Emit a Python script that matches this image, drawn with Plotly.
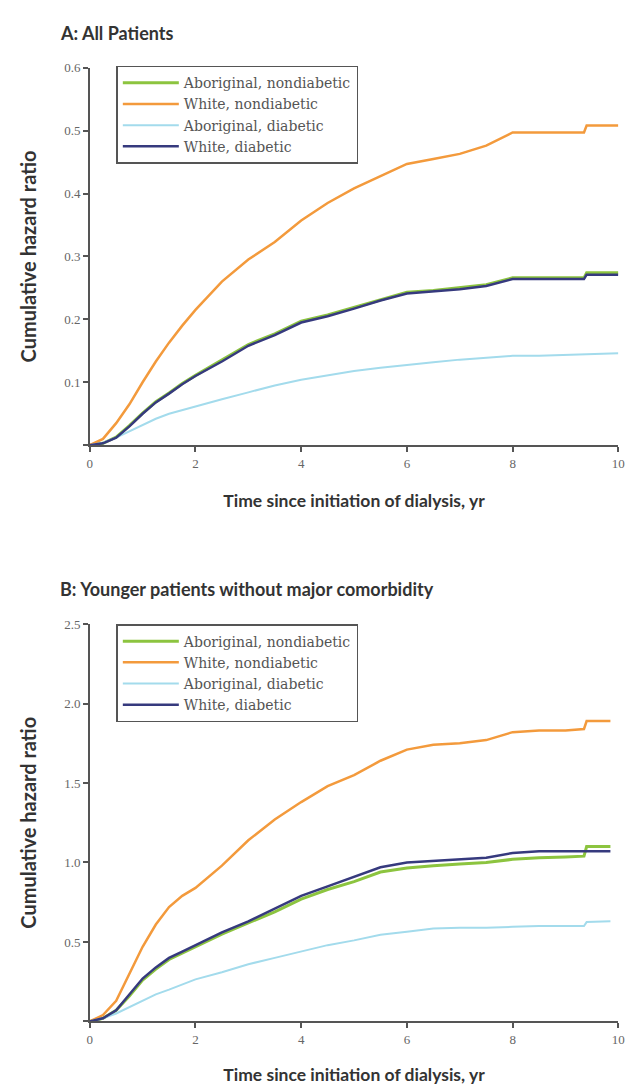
import plotly.graph_objects as go

# ---------------- data ----------------
series_names = ["Aboriginal, nondiabetic", "White, nondiabetic",
                "Aboriginal, diabetic", "White, diabetic"]

time_a = [0, 0.25, 0.5, 0.75, 1, 1.25, 1.5, 1.75, 2, 2.5, 3, 3.5, 4, 4.5, 5,
          5.5, 6, 6.5, 7, 7.5, 8, 8.5, 9, 9.35, 9.4, 10]
ab_nondiab_a = [0, 0.003, 0.013, 0.031, 0.051, 0.069, 0.083, 0.098, 0.111, 0.135,
                0.160, 0.177, 0.197, 0.207, 0.219, 0.232, 0.243, 0.246, 0.250,
                0.255, 0.266, 0.266, 0.266, 0.266, 0.274, 0.274]
wh_nondiab_a = [0, 0.010, 0.035, 0.065, 0.100, 0.133, 0.163, 0.190, 0.215, 0.260,
                0.295, 0.323, 0.357, 0.385, 0.408, 0.428, 0.447, 0.455, 0.463,
                0.476, 0.497, 0.497, 0.497, 0.497, 0.508, 0.508]
ab_diab_a = [0, 0.004, 0.012, 0.022, 0.033, 0.042, 0.050, 0.056, 0.062, 0.073,
             0.084, 0.095, 0.104, 0.111, 0.118, 0.123, 0.128, 0.132, 0.136,
             0.139, 0.142, 0.142, 0.143, 0.144, 0.145, 0.146]
wh_diab_a = [0, 0.003, 0.012, 0.030, 0.050, 0.068, 0.082, 0.097, 0.110, 0.133,
             0.158, 0.175, 0.195, 0.205, 0.217, 0.230, 0.241, 0.244, 0.248,
             0.253, 0.264, 0.264, 0.264, 0.264, 0.271, 0.271]

time_b = [0, 0.25, 0.5, 0.75, 1, 1.25, 1.5, 1.75, 2, 2.5, 3, 3.5, 4, 4.5, 5,
          5.5, 6, 6.5, 7, 7.5, 8, 8.5, 9, 9.35, 9.4, 9.85]
ab_nondiab_b = [0, 0.02, 0.07, 0.16, 0.26, 0.33, 0.39, 0.43, 0.47, 0.55, 0.62,
                0.69, 0.77, 0.83, 0.88, 0.94, 0.965, 0.98, 0.99, 1.00, 1.02,
                1.03, 1.035, 1.04, 1.10, 1.10]
wh_nondiab_b = [0, 0.04, 0.13, 0.30, 0.47, 0.61, 0.72, 0.79, 0.84, 0.98, 1.14,
                1.27, 1.38, 1.48, 1.55, 1.64, 1.71, 1.74, 1.75, 1.77, 1.82,
                1.83, 1.83, 1.84, 1.89, 1.89]
ab_diab_b = [0, 0.02, 0.05, 0.09, 0.13, 0.17, 0.20, 0.235, 0.265, 0.31, 0.36,
             0.40, 0.44, 0.48, 0.51, 0.545, 0.565, 0.585, 0.59, 0.59, 0.595,
             0.60, 0.60, 0.60, 0.625, 0.63]
wh_diab_b = [0, 0.02, 0.07, 0.17, 0.27, 0.34, 0.40, 0.44, 0.48, 0.56, 0.63,
             0.71, 0.79, 0.85, 0.91, 0.97, 1.00, 1.01, 1.02, 1.03, 1.06, 1.07,
             1.07, 1.07, 1.07, 1.07]

x_ticks = [0, 2, 4, 6, 8, 10]
y_ticks_a = [0, 0.1, 0.2, 0.3, 0.4, 0.5, 0.6]
y_labels_a = ["", "0.1", "0.2", "0.3", "0.4", "0.5", "0.6"]
y_ticks_b = [0, 0.5, 1.0, 1.5, 2.0, 2.5]
y_labels_b = ["", "0.5", "1.0", "1.5", "2.0", "2.5"]

title_a = "A: All Patients"
title_b = "B: Younger patients without major comorbidity"
x_title = "Time since initiation of dialysis, yr"
y_title = "Cumulative hazard ratio"

# ---------------- style ----------------
colors = ["#8cc43f", "#f39a3c", "#a3dbec", "#363a7e"]
widths = [3, 2.5, 2, 2.5]
W, H = 639, 1084
SERIF = "Liberation Serif"
LEGSERIF = "DejaVu Serif"
BOLD = "Lato"
AX = "#555555"

def b(s):
    return "<b>" + s + "</b>"

fig = go.Figure()
panels = [
    (time_a, [ab_nondiab_a, wh_nondiab_a, ab_diab_a, wh_diab_a], "x", "y", "legend"),
    (time_b, [ab_nondiab_b, wh_nondiab_b, ab_diab_b, wh_diab_b], "x2", "y2", "legend2"),
]
for t, vals, xa, ya, lg in panels:
    for name, v, c, w in zip(series_names, vals, colors, widths):
        fig.add_trace(go.Scatter(x=t, y=v, mode="lines", name=name,
                                 line=dict(color=c, width=w),
                                 xaxis=xa, yaxis=ya, legend=lg))

xdom = [80 / W, 617 / W]
dom_a = [1 - 433 / H, 1 - 53 / H]
dom_b = [1 - 1013 / H, 1 - 613 / H]

axis_common = dict(showline=True, linecolor=AX, linewidth=1.5, ticks="outside",
                   ticklen=5, tickwidth=1.5, tickcolor=AX, showgrid=False,
                   zeroline=False, tickfont=dict(family=SERIF, size=13, color="#666"))
xfont = dict(family=BOLD, size=17.5, color="#333")
yfont = dict(family=BOLD, size=20, color="#333")
pfont = dict(family=BOLD, size=18, color="#333")

legend_common = dict(x=107 / W, xanchor="left", yanchor="top",
                     bordercolor=AX, borderwidth=1.5, bgcolor="white",
                     font=dict(family=LEGSERIF, size=14, color="#555"),
                     tracegroupgap=0, itemwidth=56)

fig.update_layout(
    width=W, height=H, margin=dict(l=0, r=0, t=0, b=0),
    paper_bgcolor="white", plot_bgcolor="white",
    xaxis=dict(domain=xdom, range=[0, 10], tickvals=x_ticks, anchor="y",
               title=dict(text=b(x_title), font=xfont, standoff=25), **axis_common),
    yaxis=dict(domain=dom_a, range=[0, 0.6], tickvals=y_ticks_a, ticktext=y_labels_a,
               anchor="x", title=dict(text=b(y_title), font=yfont, standoff=22),
               **axis_common),
    xaxis2=dict(domain=xdom, range=[0, 10], tickvals=x_ticks, anchor="y2",
                title=dict(text=b(x_title), font=xfont, standoff=23), **axis_common),
    yaxis2=dict(domain=dom_b, range=[0, 2.5], tickvals=y_ticks_b, ticktext=y_labels_b,
                anchor="x2", title=dict(text=b(y_title), font=yfont, standoff=22),
                **axis_common),
    legend=dict(y=1 - 51 / H, **legend_common),
    legend2=dict(y=1 - 613 / H, **legend_common),
    annotations=[
        dict(text=b(title_a), x=48 / W, y=1 - 18 / H, xref="paper", yref="paper",
             xanchor="left", yanchor="middle", showarrow=False, font=pfont),
        dict(text=b(title_b), x=48 / W, y=1 - 578 / H, xref="paper", yref="paper",
             xanchor="left", yanchor="middle", showarrow=False, font=pfont),
    ],
)

fig.write_html("out.html")
